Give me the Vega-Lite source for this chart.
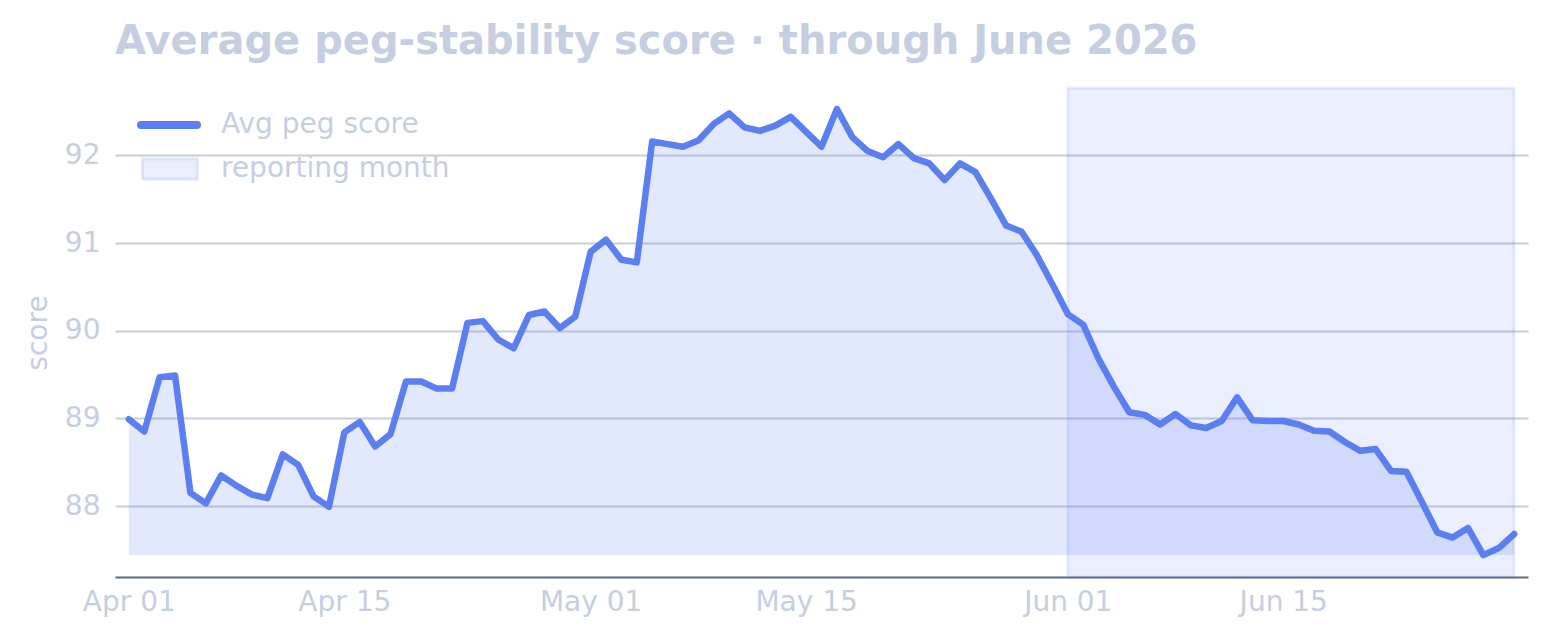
{
  "$schema": "https://vega.github.io/schema/vega-lite/v6.json",
  "autosize": "none",
  "width": 1413,
  "height": 489,
  "padding": {"left": 115, "top": 88, "right": 24, "bottom": 64},
  "background": "white",
  "title": {
    "text": "Average peg-stability score · through June 2026",
    "anchor": "start",
    "frame": "group",
    "font": "DejaVu Sans",
    "fontSize": 40,
    "fontWeight": "bold",
    "color": "#c6cee2",
    "offset": 25
  },
  "config": {
    "view": {"stroke": null},
    "font": "DejaVu Sans",
    "legend": {
      "labelFont": "DejaVu Sans",
      "labelFontSize": 28,
      "labelColor": "#c6cee2",
      "labelLimit": 500,
      "padding": 0,
      "title": null
    }
  },
  "layer": [
    {
      "data": {"name": "series"},
      "transform": [{"joinaggregate": [{"op": "min", "field": "score", "as": "lo"}]}],
      "mark": {"type": "area", "color": "#5b7ff0", "opacity": 0.17},
      "encoding": {
        "x": {"field": "date", "type": "temporal"},
        "y": {"field": "score", "type": "quantitative"},
        "y2": {"field": "lo"}
      }
    },
    {
      "data": {"values": [{"start": "2026-06-01T00:00:00", "end": "2026-06-30T00:00:00"}]},
      "mark": {"type": "rect", "stroke": "rgba(91,127,240,0.12)", "strokeWidth": 3},
      "encoding": {
        "x": {"field": "start", "type": "temporal"},
        "x2": {"field": "end"},
        "fill": {
          "datum": "reporting month",
          "scale": {"range": ["rgba(91,127,240,0.13)"]},
          "legend": {
            "orient": "none",
            "legendX": 26,
            "legendY": 52,
            "symbolType": "M-1,-0.37L1,-0.37L1,0.37L-1,0.37Z",
            "symbolSize": 3025,
            "symbolStrokeColor": "rgba(91,127,240,0.15)",
            "symbolStrokeWidth": 3,
            "labelOffset": 22
          }
        }
      }
    },
    {
      "data": {"name": "series"},
      "mark": {"type": "line", "strokeWidth": 6.5, "strokeCap": "round", "strokeJoin": "round"},
      "encoding": {
        "x": {
          "field": "date",
          "type": "temporal",
          "scale": {"domain": [{"year": 2026, "month": 3, "date": 31, "hours": 2, "minutes": 24}, {"year": 2026, "month": 6, "date": 30, "hours": 21, "minutes": 36}]},
          "axis": {
            "title": null,
            "format": "%b %d",
            "values": [
              {"year": 2026, "month": 4, "date": 1},
              {"year": 2026, "month": 4, "date": 15},
              {"year": 2026, "month": 5, "date": 1},
              {"year": 2026, "month": 5, "date": 15},
              {"year": 2026, "month": 6, "date": 1},
              {"year": 2026, "month": 6, "date": 15}
            ],
            "grid": false,
            "ticks": false,
            "domain": true,
            "domainColor": "#5a6a85",
            "domainWidth": 2,
            "labelFont": "DejaVu Sans",
            "labelFontSize": 28,
            "labelColor": "#c6cee2",
            "labelPadding": 11
          }
        },
        "y": {
          "field": "score",
          "type": "quantitative",
          "scale": {"domain": [87.19, 92.77], "nice": false, "zero": false},
          "axis": {
            "title": "score",
            "format": "d",
            "values": [88, 89, 90, 91, 92],
            "grid": true,
            "gridColor": "#c9cdd9",
            "gridWidth": 2,
            "ticks": false,
            "domain": false,
            "labelFont": "DejaVu Sans",
            "labelFontSize": 28,
            "labelColor": "#c6cee2",
            "labelPadding": 15,
            "titleFont": "DejaVu Sans",
            "titleFontSize": 28,
            "titleFontWeight": "normal",
            "titleColor": "#c6cee2",
            "titlePadding": 12
          }
        },
        "stroke": {
          "datum": "Avg peg score",
          "scale": {"range": ["#5b7ff0"]},
          "legend": {
            "orient": "none",
            "legendX": 22,
            "legendY": 5,
            "symbolType": "stroke",
            "symbolSize": 3136,
            "symbolStrokeWidth": 8,
            "labelOffset": 20,
            "encode": {"symbols": {"update": {"strokeCap": {"value": "round"}}}}
          }
        }
      }
    }
  ],
  "datasets": {
    "series": [
      {"date": "2026-04-01T00:00:00", "score": 88.99},
      {"date": "2026-04-02T00:00:00", "score": 88.85},
      {"date": "2026-04-03T00:00:00", "score": 89.47},
      {"date": "2026-04-04T00:00:00", "score": 89.49},
      {"date": "2026-04-05T00:00:00", "score": 88.15},
      {"date": "2026-04-06T00:00:00", "score": 88.03},
      {"date": "2026-04-07T00:00:00", "score": 88.35},
      {"date": "2026-04-08T00:00:00", "score": 88.23},
      {"date": "2026-04-09T00:00:00", "score": 88.13},
      {"date": "2026-04-10T00:00:00", "score": 88.09},
      {"date": "2026-04-11T00:00:00", "score": 88.59},
      {"date": "2026-04-12T00:00:00", "score": 88.47},
      {"date": "2026-04-13T00:00:00", "score": 88.11},
      {"date": "2026-04-14T00:00:00", "score": 87.99},
      {"date": "2026-04-15T00:00:00", "score": 88.84},
      {"date": "2026-04-16T00:00:00", "score": 88.96},
      {"date": "2026-04-17T00:00:00", "score": 88.68},
      {"date": "2026-04-18T00:00:00", "score": 88.82},
      {"date": "2026-04-19T00:00:00", "score": 89.42},
      {"date": "2026-04-20T00:00:00", "score": 89.42},
      {"date": "2026-04-21T00:00:00", "score": 89.34},
      {"date": "2026-04-22T00:00:00", "score": 89.34},
      {"date": "2026-04-23T00:00:00", "score": 90.09},
      {"date": "2026-04-24T00:00:00", "score": 90.11},
      {"date": "2026-04-25T00:00:00", "score": 89.90},
      {"date": "2026-04-26T00:00:00", "score": 89.80},
      {"date": "2026-04-27T00:00:00", "score": 90.18},
      {"date": "2026-04-28T00:00:00", "score": 90.22},
      {"date": "2026-04-29T00:00:00", "score": 90.03},
      {"date": "2026-04-30T00:00:00", "score": 90.16},
      {"date": "2026-05-01T00:00:00", "score": 90.90},
      {"date": "2026-05-02T00:00:00", "score": 91.04},
      {"date": "2026-05-03T00:00:00", "score": 90.81},
      {"date": "2026-05-04T00:00:00", "score": 90.78},
      {"date": "2026-05-05T00:00:00", "score": 92.16},
      {"date": "2026-05-06T00:00:00", "score": 92.13},
      {"date": "2026-05-07T00:00:00", "score": 92.10},
      {"date": "2026-05-08T00:00:00", "score": 92.17},
      {"date": "2026-05-09T00:00:00", "score": 92.36},
      {"date": "2026-05-10T00:00:00", "score": 92.48},
      {"date": "2026-05-11T00:00:00", "score": 92.32},
      {"date": "2026-05-12T00:00:00", "score": 92.28},
      {"date": "2026-05-13T00:00:00", "score": 92.34},
      {"date": "2026-05-14T00:00:00", "score": 92.44},
      {"date": "2026-05-15T00:00:00", "score": 92.27},
      {"date": "2026-05-16T00:00:00", "score": 92.10},
      {"date": "2026-05-17T00:00:00", "score": 92.53},
      {"date": "2026-05-18T00:00:00", "score": 92.21},
      {"date": "2026-05-19T00:00:00", "score": 92.05},
      {"date": "2026-05-20T00:00:00", "score": 91.98},
      {"date": "2026-05-21T00:00:00", "score": 92.13},
      {"date": "2026-05-22T00:00:00", "score": 91.97},
      {"date": "2026-05-23T00:00:00", "score": 91.91},
      {"date": "2026-05-24T00:00:00", "score": 91.72},
      {"date": "2026-05-25T00:00:00", "score": 91.91},
      {"date": "2026-05-26T00:00:00", "score": 91.81},
      {"date": "2026-05-27T00:00:00", "score": 91.51},
      {"date": "2026-05-28T00:00:00", "score": 91.20},
      {"date": "2026-05-29T00:00:00", "score": 91.13},
      {"date": "2026-05-30T00:00:00", "score": 90.86},
      {"date": "2026-05-31T00:00:00", "score": 90.53},
      {"date": "2026-06-01T00:00:00", "score": 90.19},
      {"date": "2026-06-02T00:00:00", "score": 90.07},
      {"date": "2026-06-03T00:00:00", "score": 89.68},
      {"date": "2026-06-04T00:00:00", "score": 89.36},
      {"date": "2026-06-05T00:00:00", "score": 89.07},
      {"date": "2026-06-06T00:00:00", "score": 89.04},
      {"date": "2026-06-07T00:00:00", "score": 88.93},
      {"date": "2026-06-08T00:00:00", "score": 89.05},
      {"date": "2026-06-09T00:00:00", "score": 88.92},
      {"date": "2026-06-10T00:00:00", "score": 88.89},
      {"date": "2026-06-11T00:00:00", "score": 88.97},
      {"date": "2026-06-12T00:00:00", "score": 89.24},
      {"date": "2026-06-13T00:00:00", "score": 88.98},
      {"date": "2026-06-14T00:00:00", "score": 88.97},
      {"date": "2026-06-15T00:00:00", "score": 88.97},
      {"date": "2026-06-16T00:00:00", "score": 88.93},
      {"date": "2026-06-17T00:00:00", "score": 88.86},
      {"date": "2026-06-18T00:00:00", "score": 88.85},
      {"date": "2026-06-19T00:00:00", "score": 88.73},
      {"date": "2026-06-20T00:00:00", "score": 88.63},
      {"date": "2026-06-21T00:00:00", "score": 88.65},
      {"date": "2026-06-22T00:00:00", "score": 88.40},
      {"date": "2026-06-23T00:00:00", "score": 88.39},
      {"date": "2026-06-24T00:00:00", "score": 88.05},
      {"date": "2026-06-25T00:00:00", "score": 87.70},
      {"date": "2026-06-26T00:00:00", "score": 87.64},
      {"date": "2026-06-27T00:00:00", "score": 87.75},
      {"date": "2026-06-28T00:00:00", "score": 87.44},
      {"date": "2026-06-29T00:00:00", "score": 87.52},
      {"date": "2026-06-30T00:00:00", "score": 87.68}
    ]
  }
}
